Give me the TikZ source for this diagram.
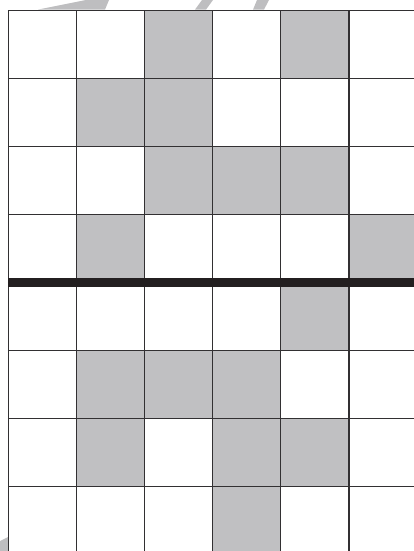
\documentclass[tikz,border=0pt]{standalone}
\definecolor{cellgray}{RGB}{192,192,194}
\definecolor{markgray}{RGB}{190,190,192}
\definecolor{linegray}{RGB}{50,48,50}
\definecolor{barblack}{RGB}{35,31,32}
\begin{document}
\begin{tikzpicture}[x=1pt,y=-1pt,
  cell/.style={fill=cellgray},
  mark shape/.style={fill=markgray},
  gridline/.style={draw=linegray,line width=1.3pt},
  divider/.style={fill=barblack}]
\useasboundingbox (0,0) rectangle (414,551);
\clip (0,0) rectangle (414,551);
% faint shapes peeking in at the edges
\fill[mark shape] (38,9.6) -- (86,0) -- (109,0) -- (105,9.6) -- cycle;
\fill[mark shape] (195,9.6) -- (202,0) -- (213,0) -- (206,9.6) -- cycle;
\fill[mark shape] (253,9.6) -- (257,0) -- (269,0) -- (264,9.6) -- cycle;
\fill[mark shape] (0,541) -- (8,537) -- (8,551) -- (0,551) -- cycle;
% shaded cells (row/column)
\foreach \r/\c in {1/3,1/5,2/2,2/3,3/3,3/4,3/5,4/2,4/6,5/5,6/2,6/3,6/4,7/2,7/4,7/5,8/4}
  \fill[cell] ({8.4+68.1*(\c-1)},{10.5+68*(\r-1)}) rectangle ++(68.1,68);
% grid lines
\foreach \i in {0,...,6}
  \draw[gridline] ({8.4+68.1*\i},10.5) -- ({8.4+68.1*\i},560);
\foreach \j in {0,...,8}
  \draw[gridline] (7.8,{10.5+68*\j}) -- (420,{10.5+68*\j});
% thick divider
\fill[divider] (7.8,278.3) rectangle (420,287.3);
\end{tikzpicture}
\end{document}
